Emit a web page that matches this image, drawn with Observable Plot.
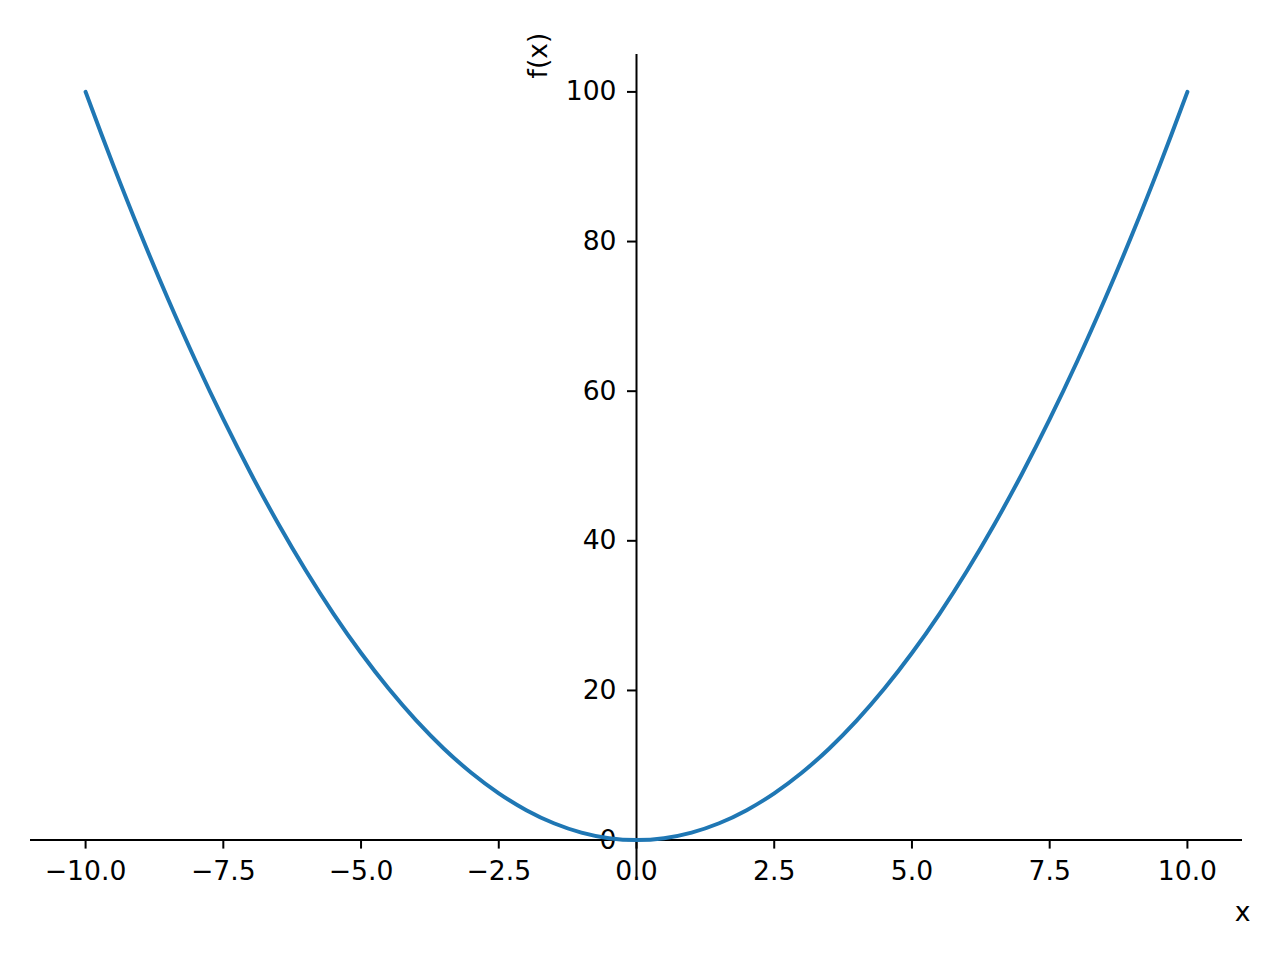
<!DOCTYPE html>
<html>
<head>
<meta charset="utf-8">
<script src="https://cdn.jsdelivr.net/npm/d3@7"></script>
<script src="https://cdn.jsdelivr.net/npm/@observablehq/plot@0.6"></script>
<style>
  html, body { margin: 0; padding: 0; background: #ffffff; }
  #chart svg { display: block; }
</style>
</head>
<body>
<div id="chart"></div>
<script>
// Curve samples: f(x) over x in [-10, 10]
const xValues = [-10, -9.5, -9, -8.5, -8, -7.5, -7, -6.5, -6, -5.5, -5, -4.5, -4, -3.5, -3, -2.5, -2, -1.5, -1, -0.5, 0,
                 0.5, 1, 1.5, 2, 2.5, 3, 3.5, 4, 4.5, 5, 5.5, 6, 6.5, 7, 7.5, 8, 8.5, 9, 9.5, 10];
const fValues = [100, 90.25, 81, 72.25, 64, 56.25, 49, 42.25, 36, 30.25, 25, 20.25, 16, 12.25, 9, 6.25, 4, 2.25, 1, 0.25, 0,
                 0.25, 1, 2.25, 4, 6.25, 9, 12.25, 16, 20.25, 25, 30.25, 36, 42.25, 49, 56.25, 64, 72.25, 81, 90.25, 100];
const xTicks = [-10, -7.5, -5, -2.5, 0, 2.5, 5, 7.5, 10];
const xTickLabels = ["−10.0", "−7.5", "−5.0", "−2.5", "0.0", "2.5", "5.0", "7.5", "10.0"];
const yTicks = [0, 20, 40, 60, 80, 100];
const yTickLabels = ["0", "20", "40", "60", "80", "100"];
const xDomain = [-11, 11];
const yDomain = [-5, 105];

const data = xValues.map((x, i) => ({x, y: fValues[i]}));

const W = 1280, H = 960;
const mL = 30, mR = 38, mT = 54, mB = 83;
const tickLen = 9;
const pxPerX = (W - mL - mR) / (xDomain[1] - xDomain[0]);
const pxPerY = (H - mT - mB) / (yDomain[1] - yDomain[0]);
const font = "DejaVu Sans, sans-serif";
const fs = 26.6;

const chart = Plot.plot({
  width: W,
  height: H,
  marginLeft: mL,
  marginRight: mR,
  marginTop: mT,
  marginBottom: mB,
  style: {background: "#ffffff", fontFamily: font, fontSize: fs + "px", color: "#000"},
  x: {domain: xDomain, axis: null},
  y: {domain: yDomain, axis: null},
  marks: [
    // spines through zero
    Plot.ruleY([0], {x1: xDomain[0], x2: xDomain[1], stroke: "#000", strokeWidth: 2}),
    Plot.ruleX([0], {y1: yDomain[0], y2: yDomain[1], stroke: "#000", strokeWidth: 2}),
    // x ticks
    Plot.ruleX(xTicks, {x: d => d, y1: 0, y2: -tickLen / pxPerY, stroke: "#000", strokeWidth: 2}),
    Plot.text(xTicks, {x: d => d, y: 0, text: (d, i) => xTickLabels[i], dy: 31, lineAnchor: "middle", fontSize: fs, fill: "#000"}),
    // y ticks
    Plot.ruleY(yTicks, {y: d => d, x1: 0, x2: -tickLen / pxPerX, stroke: "#000", strokeWidth: 2}),
    Plot.text(yTicks, {x: 0, y: d => d, text: (d, i) => yTickLabels[i], dx: -20, textAnchor: "end", lineAnchor: "middle", fontSize: fs, fill: "#000"}),
    // curve
    Plot.line(data, {x: "x", y: "y", stroke: "#1f77b4", strokeWidth: 4, curve: "catmull-rom"}),
    // axis labels
    Plot.text(["x"], {frameAnchor: "bottom-right", text: d => d, dy: 35, textAnchor: "middle", lineAnchor: "middle", fontSize: fs, fill: "#000"}),
    Plot.text(["f(x)"], {x: 0, frameAnchor: "top", text: d => d, dx: -98, dy: 1, rotate: -90, textAnchor: "middle", lineAnchor: "middle", fontSize: fs, fill: "#000"})
  ]
});
document.getElementById("chart").appendChild(chart);
</script>
</body>
</html>
